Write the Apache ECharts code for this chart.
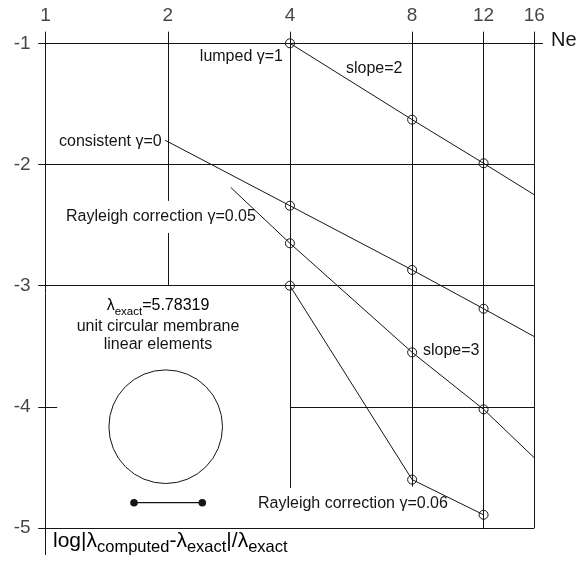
<!DOCTYPE html>
<html>
<head>
<meta charset="utf-8">
<script src="https://cdn.jsdelivr.net/npm/echarts@6/dist/echarts.min.js"></script>
<style>
  html, body { margin: 0; padding: 0; background: #fff; }
  #chart { width: 577px; height: 562px; }
</style>
</head>
<body>
<div id="chart"></div>
<script>
// Number of elements (log2 axis) and log10 relative eigenvalue error
const neTicks = [1, 2, 4, 8, 12, 16];
const errTicks = [-1, -2, -3, -4, -5];
const markedNe = [4, 8, 12];

const lumpedNe = [4, 8, 12, 16];
const lumpedErr = [-1.0, -1.63, -1.99, -2.25];

const consistentNe = [1.97, 4, 8, 12, 16];
const consistentErr = [-1.80, -2.34, -2.87, -3.19, -3.42];

const rayleigh05Ne = [2.86, 4, 8, 12, 16];
const rayleigh05Err = [-2.19, -2.65, -3.55, -4.02, -4.42];

const rayleigh06Ne = [4, 8, 12];
const rayleigh06Err = [-3.0, -4.6, -4.89];

const INK = '#151515';
const FONT = '"Liberation Sans", Arial, Helvetica, sans-serif';

// Frame segments of the hand-drawn style grid: [[ne1, err1], [ne2, err2]]
const frameSegments = [
  [[0.959, -1], [16.8, -1]],
  [[0.959, -2], [16, -2]],
  [[0.959, -3], [16, -3]],
  [[0.959, -4], [1.068, -4]],
  [[4, -4], [16, -4]],
  [[0.959, -5], [16, -5]],
  [[1, -0.904], [1, -5.222]],
  [[2, -0.904], [2, -2.30]],
  [[2, -2.565], [2, -3]],
  [[4, -0.904], [4, -4.669]],
  [[8, -0.904], [8, -4.658]],
  [[12, -0.904], [12, -5]],
  [[16, -0.904], [16, -5]]
];

function curve(ne, err) {
  return ne.map((n, i) => ({
    value: [n, err[i]],
    symbol: markedNe.includes(n) ? 'circle' : 'none'
  }));
}

function curveSeries(name, ne, err) {
  return {
    name: name,
    type: 'line',
    data: curve(ne, err),
    symbolSize: 9,
    showAllSymbol: true,
    clip: false,
    silent: true,
    z: 5,
    lineStyle: { color: INK, width: 1 },
    itemStyle: { color: 'rgba(0,0,0,0)', borderColor: INK, borderWidth: 1 }
  };
}

const textStyle = (extra) => Object.assign({
  fill: INK, font: '16px ' + FONT, textVerticalAlign: 'middle'
}, extra);

const chart = echarts.init(document.getElementById('chart'), null, { renderer: 'canvas' });

chart.setOption({
  animation: false,
  backgroundColor: '#fff',
  grid: { left: 45.6, right: 42.7, top: 43.3, bottom: 33.9 },
  xAxis: {
    type: 'log', logBase: 2, min: 1, max: 16,
    axisLine: { show: false }, axisTick: { show: false },
    axisLabel: { show: false }, splitLine: { show: false }
  },
  yAxis: {
    type: 'value', min: -5, max: -1,
    axisLine: { show: false }, axisTick: { show: false },
    axisLabel: { show: false }, splitLine: { show: false }
  },
  series: [
    {
      type: 'lines',
      coordinateSystem: 'cartesian2d',
      polyline: false,
      clip: false,
      silent: true,
      lineStyle: { color: INK, width: 1, opacity: 1 },
      data: frameSegments.map(s => ({ coords: s }))
    },
    curveSeries('lumped', lumpedNe, lumpedErr),
    curveSeries('consistent', consistentNe, consistentErr),
    curveSeries('rayleigh05', rayleigh05Ne, rayleigh05Err),
    curveSeries('rayleigh06', rayleigh06Ne, rayleigh06Err),
    {
      // Ne tick labels along the top
      type: 'scatter',
      symbolSize: 0,
      silent: true,
      clip: false,
      data: neTicks.map(n => [n, -1]),
      label: {
        show: true, position: 'inside', offset: [0, -27.5],
        formatter: p => String(p.value[0]),
        color: INK, fontFamily: FONT, fontSize: 19
      }
    },
    {
      // log error tick labels on the left
      type: 'scatter',
      symbolSize: 0,
      silent: true,
      clip: false,
      data: errTicks.map(v => [1, v]),
      label: {
        show: true, position: 'inside', align: 'right', offset: [-15, 0],
        formatter: p => String(p.value[1]),
        color: INK, fontFamily: FONT, fontSize: 19
      }
    }
  ],
  graphic: [
    { type: 'text', left: 551, top: 30, style: { text: 'Ne', fill: INK, font: '20px ' + FONT } },
    { type: 'text', x: 283, y: 56.7, style: textStyle({ text: 'lumped γ=1', textAlign: 'right' }) },
    { type: 'text', x: 346, y: 69, style: textStyle({ text: 'slope=2' }) },
    { type: 'text', x: 59, y: 141.7, style: textStyle({ text: 'consistent γ=0' }) },
    { type: 'text', x: 66, y: 216.7, style: textStyle({ text: 'Rayleigh correction γ=0.05' }) },
    { type: 'text', x: 423, y: 351, style: textStyle({ text: 'slope=3' }) },
    { type: 'text', x: 258, y: 504, style: textStyle({ text: 'Rayleigh correction γ=0.06' }) },
    {
      type: 'text', x: 158, y: 308,
      style: {
        text: '{m|λ}{s|exact}{m|=5.78319}',
        textAlign: 'center', textVerticalAlign: 'middle',
        rich: {
          m: { fontSize: 16, fontFamily: FONT, color: INK, lineHeight: 20, verticalAlign: 'top' },
          s: { fontSize: 11.5, fontFamily: FONT, color: INK, lineHeight: 13, verticalAlign: 'bottom' }
        }
      }
    },
    { type: 'text', x: 158, y: 326.7, style: textStyle({ text: 'unit circular membrane', textAlign: 'center' }) },
    { type: 'text', x: 158, y: 344.3, style: textStyle({ text: 'linear elements', textAlign: 'center' }) },
    {
      type: 'circle', shape: { cx: 165.7, cy: 426.7, r: 56.8 },
      style: { fill: 'none', stroke: INK, lineWidth: 1 }
    },
    {
      type: 'line', shape: { x1: 134, y1: 502.7, x2: 202.3, y2: 502.7 },
      style: { stroke: INK, lineWidth: 1.3 }
    },
    { type: 'circle', shape: { cx: 134, cy: 502.7, r: 3.8 }, style: { fill: INK } },
    { type: 'circle', shape: { cx: 202.3, cy: 502.7, r: 3.8 }, style: { fill: INK } },
    {
      type: 'text', x: 53, y: 543,
      style: {
        text: '{m|log|λ}{s|computed}{m|-λ}{s|exact}{m||/λ}{s|exact}',
        textVerticalAlign: 'middle',
        rich: {
          m: { fontSize: 21, fontFamily: FONT, color: INK, lineHeight: 25, verticalAlign: 'top' },
          s: { fontSize: 16.5, fontFamily: FONT, color: INK, lineHeight: 18, verticalAlign: 'bottom' }
        }
      }
    }
  ]
});
</script>
</body>
</html>
